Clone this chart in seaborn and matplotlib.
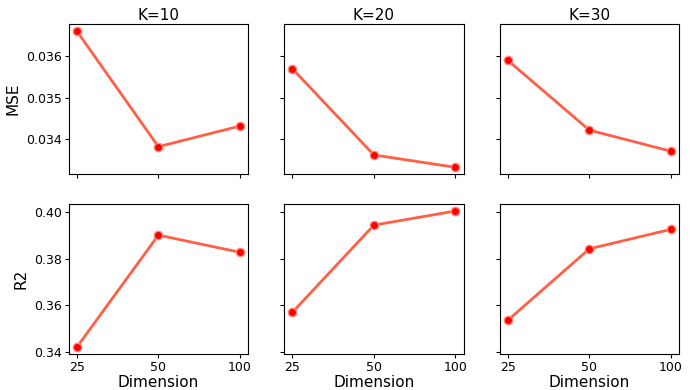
import pandas as pd
import seaborn as sns
import matplotlib.pyplot as plt

sns.set_style("ticks")
plt.rcParams["font.family"] = ["DejaVu Sans"]
plt.rcParams["text.color"] = "black"
plt.rcParams["axes.labelcolor"] = "black"
plt.rcParams["xtick.color"] = "black"
plt.rcParams["ytick.color"] = "black"

# Values
dims = ["25", "50", "100"]
ks = ["K=10", "K=20", "K=30"]
mse_k10 = [0.03661, 0.03381, 0.03431]
mse_k20 = [0.03570, 0.03361, 0.03331]
mse_k30 = [0.03590, 0.03421, 0.03370]
r2_k10 = [0.3419, 0.3902, 0.3828]
r2_k20 = [0.3569, 0.3945, 0.4006]
r2_k30 = [0.3535, 0.3843, 0.3927]

rows = []
for k, mse, r2 in zip(ks, [mse_k10, mse_k20, mse_k30], [r2_k10, r2_k20, r2_k30]):
    for d, m, r in zip(dims, mse, r2):
        rows.append([k, d, m, r])
df = pd.DataFrame(rows, columns=["K", "Dimension", "MSE", "R2"])

fig, axes = plt.subplots(2, 3, figsize=(6.93, 3.9), dpi=100, sharex=True, sharey="row")
fig.subplots_adjust(left=0.099, right=0.980, top=0.938, bottom=0.092, wspace=0.2, hspace=0.2)

for j, k in enumerate(ks):
    sub = df[df["K"] == k]
    for i, metric in enumerate(["MSE", "R2"]):
        ax = axes[i, j]
        sns.lineplot(data=sub, x="Dimension", y=metric, ax=ax, sort=False,
                     color="#ff5f45", linewidth=2, marker="o", markersize=6,
                     markerfacecolor="red", markeredgecolor="#ff8a7a",
                     markeredgewidth=1)
        ax.set_xlabel("")
        ax.set_ylabel("")
        ax.tick_params(labelsize=9, length=3, pad=2, color="black")
        for s in ax.spines.values():
            s.set_color("black")
    axes[0, j].set_title(k, fontsize=11, pad=3)
    axes[1, j].set_xlabel("Dimension", fontsize=11, labelpad=0.5)

axes[0, 0].set_ylabel("MSE", fontsize=11, labelpad=4)
axes[1, 0].set_ylabel("R2", fontsize=11, labelpad=4)
axes[0, 0].set_yticks([0.034, 0.035, 0.036])
axes[1, 0].set_yticks([0.34, 0.36, 0.38, 0.40])

plt.savefig("out.png", dpi=100)
